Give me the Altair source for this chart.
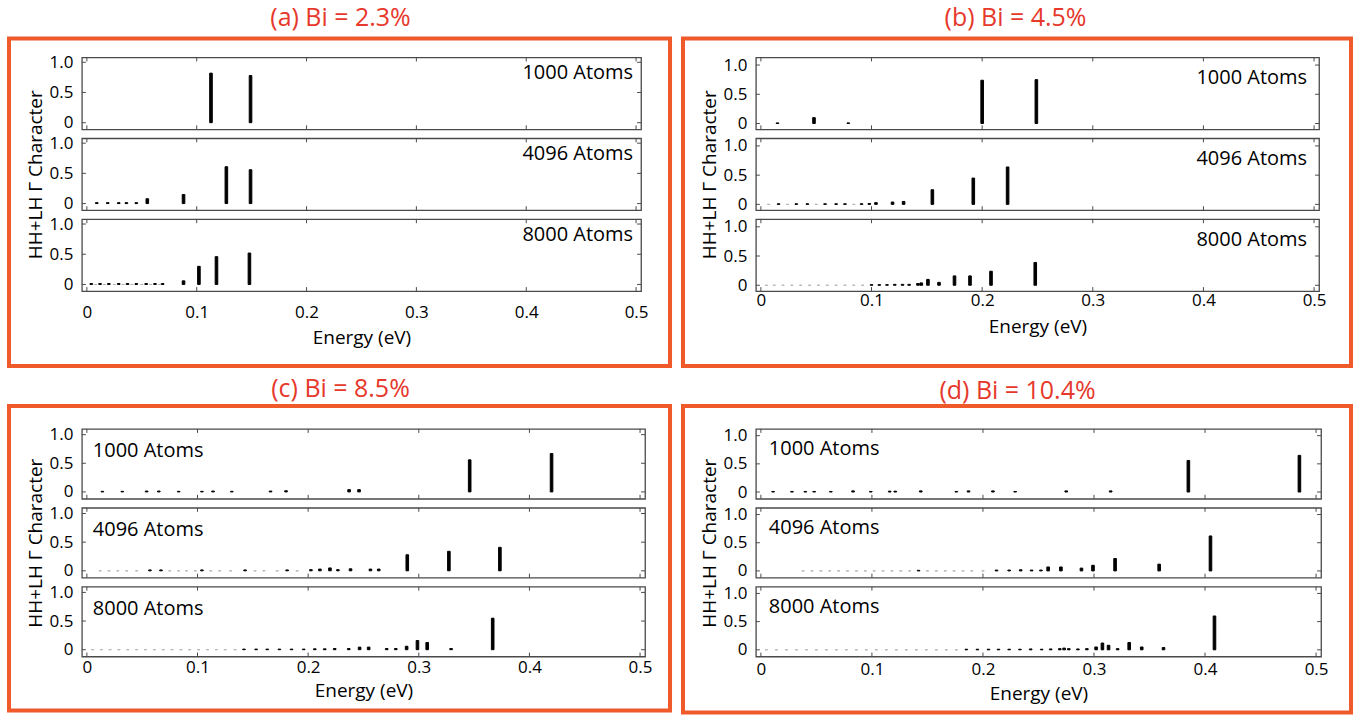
import altair as alt
import pandas as pd

FONT = "Open Sans"
RED = "#e6382b"
ORANGE = "#f0592a"
BOX = "#4a4a4a"
FAINT = "#b3b3b3"

X_TICKS = [0, 0.1, 0.2, 0.3, 0.4, 0.5]
Y_TICKS = [0, 0.5, 1.0]

TITLES = ["(a) Bi = 2.3%", "(b) Bi = 4.5%", "(c) Bi = 8.5%", "(d) Bi = 10.4%"]
SIZES = ["1000 Atoms", "4096 Atoms", "8000 Atoms"]

# ---------- (a) Bi = 2.3% ----------
A1_E = [0.113, 0.149]
A1_H = [0.82, 0.78]
A2_E = [0.009, 0.019, 0.029, 0.036, 0.045, 0.055, 0.088, 0.127, 0.149]
A2_H = [0.015, 0.015, 0.015, 0.015, 0.015, 0.08, 0.15, 0.61, 0.56]
A3_E = [0.004, 0.008, 0.012, 0.016, 0.020, 0.025, 0.029, 0.033, 0.037, 0.041,
        0.045, 0.050, 0.054, 0.058, 0.062, 0.066, 0.069, 0.088, 0.102, 0.118, 0.148]
A3_H = [0.015, 0, 0.015, 0, 0.015, 0, 0.015, 0, 0.015, 0,
        0.015, 0, 0.015, 0, 0.015, 0, 0.015, 0.06, 0.30, 0.46, 0.52]

# ---------- (b) Bi = 4.5% ----------
B1_E = [0.015, 0.048, 0.079, 0.200, 0.249]
B1_H = [0.01, 0.10, 0.01, 0.74, 0.75]
B2_E = [0.007, 0.016, 0.024, 0.032, 0.042, 0.050, 0.058, 0.068, 0.076, 0.084,
        0.091, 0.098, 0.104, 0.119, 0.129, 0.155, 0.192, 0.223]
B2_H = [0, 0.01, 0, 0.01, 0.01, 0, 0.01, 0.01, 0.01, 0,
        0.01, 0.015, 0.03, 0.04, 0.05, 0.25, 0.45, 0.64]
B3_E = [0.005, 0.012, 0.020, 0.028, 0.036, 0.044, 0.052, 0.060, 0.068, 0.076,
        0.084, 0.092, 0.100, 0.107, 0.114, 0.121, 0.128, 0.134, 0.142, 0.145,
        0.151, 0.161, 0.175, 0.189, 0.208, 0.248]
B3_H = [0, 0, 0, 0, 0, 0, 0, 0, 0, 0,
        0, 0, 0.01, 0.01, 0.01, 0.015, 0.015, 0.015, 0.03, 0.04,
        0.10, 0.05, 0.16, 0.16, 0.24, 0.39]

# ---------- (c) Bi = 8.5% ----------
C1_E = [0.014, 0.032, 0.054, 0.065, 0.083, 0.104, 0.114, 0.131, 0.166, 0.180,
        0.237, 0.246, 0.346, 0.420]
C1_H = [0.01, 0.01, 0.015, 0.015, 0.01, 0.01, 0.015, 0.01, 0.015, 0.02,
        0.04, 0.04, 0.56, 0.67]
C2_E = [0.012, 0.020, 0.028, 0.036, 0.045, 0.057, 0.067, 0.075, 0.083, 0.090,
        0.098, 0.104, 0.112, 0.120, 0.130, 0.143, 0.152, 0.160, 0.172, 0.181,
        0.190, 0.2025, 0.2106, 0.2197, 0.2269, 0.2383, 0.2563, 0.2638, 0.2896, 0.3272,
        0.3733]
C2_H = [0, 0, 0, 0, 0, 0.015, 0.015, 0, 0, 0,
        0, 0.015, 0, 0, 0, 0.015, 0, 0, 0, 0.015,
        0, 0.02, 0.03, 0.05, 0.02, 0.035, 0.03, 0.03, 0.28, 0.34,
        0.41]
C3_E = [0.005, 0.013, 0.021, 0.029, 0.037, 0.045, 0.053, 0.061, 0.069, 0.077,
        0.085, 0.093, 0.101, 0.109, 0.117, 0.125, 0.134, 0.142, 0.153, 0.163,
        0.174, 0.185, 0.196, 0.206, 0.215, 0.224, 0.2367, 0.2465, 0.2547, 0.271,
        0.2792, 0.289, 0.2988, 0.3076, 0.3292, 0.3668]
C3_H = [0, 0, 0, 0, 0, 0, 0, 0, 0, 0,
        0, 0, 0, 0, 0, 0, 0, 0.01, 0.01, 0.01,
        0.01, 0.01, 0.01, 0.015, 0.015, 0.02, 0.02, 0.045, 0.045, 0.02,
        0.02, 0.06, 0.16, 0.125, 0.02, 0.55]

# ---------- (d) Bi = 10.4% ----------
D1_E = [0.011, 0.028, 0.040, 0.048, 0.063, 0.083, 0.099, 0.116, 0.121, 0.144,
        0.176, 0.187, 0.209, 0.229, 0.275, 0.315, 0.385, 0.485]
D1_H = [0.01, 0.01, 0.01, 0.01, 0.01, 0.02, 0.01, 0.015, 0.015, 0.02,
        0.01, 0.02, 0.02, 0.01, 0.02, 0.02, 0.56, 0.65]
D2_E = [0.038, 0.046, 0.054, 0.062, 0.070, 0.078, 0.086, 0.094, 0.102, 0.110,
        0.118, 0.126, 0.134, 0.142, 0.150, 0.158, 0.166, 0.174, 0.182, 0.190,
        0.200, 0.2122, 0.2236, 0.234, 0.2438, 0.2522, 0.2587, 0.2702, 0.2887, 0.2991,
        0.319, 0.3587, 0.4049]
D2_H = [0, 0, 0, 0, 0, 0, 0, 0, 0, 0,
        0, 0, 0, 0.01, 0, 0, 0, 0, 0, 0,
        0, 0.015, 0.015, 0.02, 0.015, 0.015, 0.07, 0.07, 0.05, 0.10,
        0.22, 0.12, 0.62]
D3_E = [0.005, 0.014, 0.023, 0.032, 0.041, 0.050, 0.059, 0.068, 0.077, 0.086,
        0.095, 0.104, 0.113, 0.122, 0.131, 0.140, 0.149, 0.158, 0.167, 0.176,
        0.185, 0.195, 0.205, 0.214, 0.2236, 0.2333, 0.243, 0.2529, 0.261, 0.2692,
        0.2731, 0.2773, 0.2855, 0.2936, 0.3019, 0.3076, 0.3131, 0.3213, 0.3317, 0.343,
        0.3626, 0.4085]
D3_H = [0, 0, 0, 0, 0, 0, 0, 0, 0, 0,
        0, 0, 0, 0, 0, 0, 0, 0, 0, 0,
        0.01, 0.01, 0.01, 0.01, 0.01, 0.01, 0.015, 0.01, 0.015, 0.02,
        0.03, 0.02, 0.015, 0.02, 0.05, 0.12, 0.08, 0.02, 0.13, 0.05,
        0.04, 0.60]

# panel layout (plot-area sizes, y domain, label placement, frame/title offsets)
PANELS = {
    "a": dict(w=560, h=72, ydom=[-0.11, 1.08], lab_x="right", lab_dx=8, lab_y=16,
              frame=(-73, 589, -19, 309), title=(259, -39), lp=13, tp=8),
    "b": dict(w=564, h=72, ydom=[-0.1, 1.13], lab_x="right", lab_dx=12, lab_y=21,
              frame=(-73, 596, -19, 309), title=(260, -39), lp=1, tp=9),
    "c": dict(w=564, h=70, ydom=[-0.12, 1.1], lab_x="left", lab_dx=11, lab_y=22,
              frame=(-73, 589, -23, 282), title=(259, -40), lp=3, tp=6),
    "d": dict(w=566, h=70, ydom=[-0.12, 1.12], lab_x="left", lab_dx=13, lab_y=20,
              frame=(-73, 596, -23, 284), title=(262, -38), lp=5, tp=7),
}
ROW_SPACING = 9
COL_SPACING = 111
GAP_ROW_HEIGHT = 120

ONE = pd.DataFrame({"k": [0]})


def subplot(E, H, label, P, pos, title_text=None, background=False):
    W, HH = P["w"], P["h"]
    xs = alt.Scale(domain=[0, 0.5], nice=False, zero=False)
    ys = alt.Scale(domain=P["ydom"], nice=False, zero=False)
    if pos == "bottom":
        xaxis = alt.Axis(values=X_TICKS, format="~g", title="Energy (eV)", ticks=False,
                         domain=False, grid=False, labelPadding=P["lp"],
                         titlePadding=P["tp"], labelFlush=False)
    else:
        xaxis = None
    yaxis = alt.Axis(values=Y_TICKS,
                     labelExpr="datum.value == 0 ? '0' : format(datum.value, '.1f')",
                     ticks=False, domain=False, grid=False, labelPadding=9,
                     title="HH+LH \u0393 Character" if pos == "mid" else None,
                     titlePadding=4)
    df = pd.DataFrame({"e": E, "h": H})
    layers = []
    if background:
        layers.append(alt.Chart(ONE).mark_rect(opacity=0).encode(
            x=alt.value(-81), x2=alt.value(1281), y=alt.value(-56), y2=alt.value(660)))
    bars = alt.Chart(df).mark_bar(size=2.6, strokeWidth=1).encode(
        x=alt.X("e:Q", scale=xs, axis=xaxis),
        y=alt.Y("h:Q", scale=ys, axis=yaxis),
        color=alt.condition("datum.h < 0.001", alt.value(FAINT), alt.value("black")),
        stroke=alt.condition("datum.h < 0.001", alt.value(FAINT), alt.value("black")),
    )
    layers.append(bars)
    xt = pd.DataFrame({"e": X_TICKS})
    yt = pd.DataFrame({"h": Y_TICKS})
    tick_style = dict(color=BOX, strokeWidth=1)
    layers.append(alt.Chart(xt).mark_rule(**tick_style).encode(
        x=alt.X("e:Q", scale=xs, axis=xaxis), y=alt.value(HH), y2=alt.value(HH - 4)))
    layers.append(alt.Chart(xt).mark_rule(**tick_style).encode(
        x=alt.X("e:Q", scale=xs, axis=xaxis), y=alt.value(0), y2=alt.value(4)))
    layers.append(alt.Chart(yt).mark_rule(**tick_style).encode(
        y=alt.Y("h:Q", scale=ys, axis=yaxis), x=alt.value(0), x2=alt.value(4)))
    layers.append(alt.Chart(yt).mark_rule(**tick_style).encode(
        y=alt.Y("h:Q", scale=ys, axis=yaxis), x=alt.value(W), x2=alt.value(W - 4)))
    if P["lab_x"] == "right":
        lx, al = W - P["lab_dx"], "right"
    else:
        lx, al = P["lab_dx"], "left"
    layers.append(alt.Chart(pd.DataFrame({"s": [label]})).mark_text(
        align=al, baseline="middle", fontSize=20, font=FONT, color="black").encode(
        text="s:N", x=alt.value(lx), y=alt.value(P["lab_y"])))
    if title_text is not None:
        fx1, fx2, fy1, fy2 = P["frame"]
        layers.append(alt.Chart(ONE).mark_rect(fillOpacity=0, stroke=ORANGE,
                                               strokeWidth=4).encode(
            x=alt.value(fx1), x2=alt.value(fx2), y=alt.value(fy1), y2=alt.value(fy2)))
        tx, ty = P["title"]
        layers.append(alt.Chart(pd.DataFrame({"s": [title_text]})).mark_text(
            align="center", baseline="middle", fontSize=25, font=FONT, color=RED).encode(
            text="s:N", x=alt.value(tx), y=alt.value(ty)))
    return alt.layer(*layers).properties(width=W, height=HH)


def panel(key, series, title, background=False):
    P = PANELS[key]
    pos = ["top", "mid", "bottom"]
    subs = []
    for i, (E, H) in enumerate(series):
        subs.append(subplot(E, H, SIZES[i], P, pos[i],
                            title_text=title if i == 0 else None,
                            background=background and i == 0))
    return subs


def spacer(w):
    return alt.Chart(ONE).mark_rect(opacity=0).encode(
        x=alt.value(0), x2=alt.value(1), y=alt.value(0), y2=alt.value(1)
    ).properties(width=w, height=GAP_ROW_HEIGHT,
                 view=alt.ViewBackground(strokeOpacity=0))


pa = panel("a", [(A1_E, A1_H), (A2_E, A2_H), (A3_E, A3_H)], TITLES[0], background=True)
pb = panel("b", [(B1_E, B1_H), (B2_E, B2_H), (B3_E, B3_H)], TITLES[1])
pc = panel("c", [(C1_E, C1_H), (C2_E, C2_H), (C3_E, C3_H)], TITLES[2])
pd_ = panel("d", [(D1_E, D1_H), (D2_E, D2_H), (D3_E, D3_H)], TITLES[3])

cells = []
for i in range(3):
    cells += [pa[i], pb[i]]
cells += [spacer(10), spacer(10)]
for i in range(3):
    cells += [pc[i], pd_[i]]

chart = alt.concat(
    *cells, columns=2, bounds="flush",
    spacing=alt.RowColnumber(row=ROW_SPACING, column=COL_SPACING)
).properties(
    padding=0, autosize=alt.AutoSizeParams(type="pad")
).configure(font=FONT, background="white").configure_view(
    stroke=BOX, strokeWidth=1.3
).configure_axis(
    labelFont=FONT, titleFont=FONT, labelFontSize=17, titleFontSize=19,
    labelColor="black", titleColor="black", titleFontWeight="normal"
)

chart.save("out.html", embed_options={"renderer": "svg", "actions": False})
